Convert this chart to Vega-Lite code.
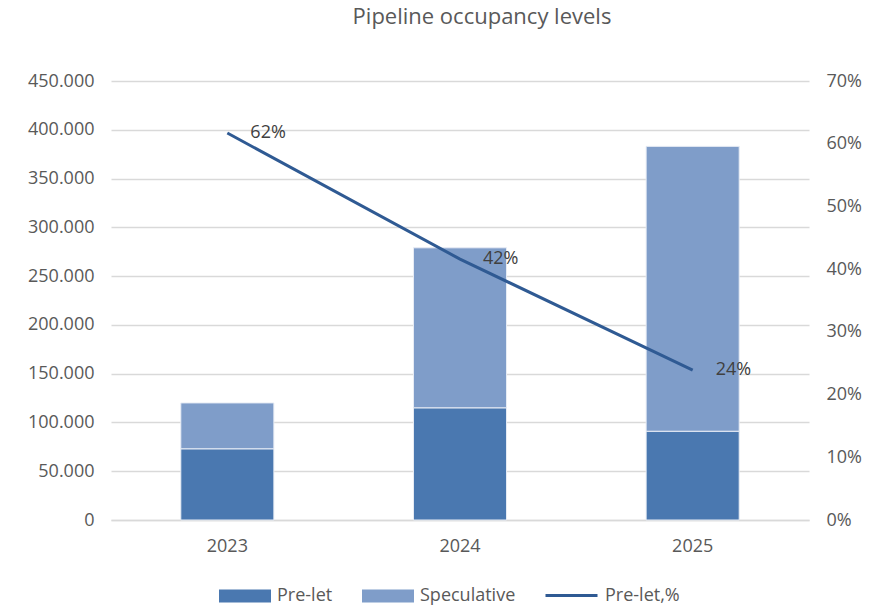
{
  "$schema": "https://vega.github.io/schema/vega-lite/v6.json",
  "width": 698,
  "height": 439,
  "padding": {"left": 27, "top": 6, "right": 8, "bottom": 0},
  "config": {
    "font": "Open Sans",
    "view": {"stroke": null},
    "axis": {"labelFont": "Open Sans", "labelColor": "#595959", "labelFontSize": 18, "titleFont": "Open Sans"},
    "legend": {"labelFont": "Open Sans", "labelColor": "#595959", "labelFontSize": 18}
  },
  "title": {"text": "Pipeline occupancy levels", "fontSize": 22, "fontWeight": "normal", "color": "#595959", "font": "Open Sans", "dx": 22, "offset": 43, "anchor": "middle"},
  "datasets": {
    "bars": [
      {"year": "2023", "series": "Pre-let", "value": 73000, "ord": 1},
      {"year": "2023", "series": "Speculative", "value": 47000, "ord": 2},
      {"year": "2024", "series": "Pre-let", "value": 115000, "ord": 1},
      {"year": "2024", "series": "Speculative", "value": 164000, "ord": 2},
      {"year": "2025", "series": "Pre-let", "value": 91000, "ord": 1},
      {"year": "2025", "series": "Speculative", "value": 292000, "ord": 2}
    ],
    "line": [
      {"year": "2023", "pct": 0.617, "label": "62%"},
      {"year": "2024", "pct": 0.416, "label": "42%"},
      {"year": "2025", "pct": 0.239, "label": "24%"}
    ]
  },
  "encoding": {
    "x": {"field": "year", "type": "nominal",
      "scale": {"paddingInner": 0.6, "paddingOuter": 0.3},
      "axis": {"title": null, "labelAngle": 0, "ticks": false, "domainColor": "#d9d9d9", "domainWidth": 1.5, "labelPadding": 17, "grid": false}}
  },
  "layer": [
    {
      "data": {"name": "bars"},
      "mark": {"type": "bar", "stroke": "#e8edf5", "strokeWidth": 1},
      "encoding": {
        "y": {"field": "value", "type": "quantitative", "stack": "zero",
          "scale": {"domain": [0, 450000]},
          "axis": {"title": null, "values": [0,50000,100000,150000,200000,250000,300000,350000,400000,450000], "labelExpr": "replace(format(datum.value, ','), ',', '.')", "domain": false, "ticks": false, "gridColor": "#d9d9d9", "gridWidth": 1.5, "labelPadding": 17, "labelOverlap": false}},
        "fill": {"field": "series", "type": "nominal",
          "scale": {"domain": ["Pre-let", "Speculative"], "range": ["#4a78b0", "#7f9dc9"]},
          "legend": {"title": null, "orient": "none", "legendX": 108, "legendY": 489, "direction": "horizontal", "columnPadding": 29, "labelOffset": 6, "symbolSize": 2704, "symbolType": "M-1,-0.25H1V0.25H-1Z", "symbolStrokeWidth": 0, "labelLimit": 200}},
        "order": {"field": "ord", "type": "quantitative"}
      }
    },
    {
      "data": {"name": "line"},
      "mark": {"type": "line", "strokeWidth": 3},
      "encoding": {
        "y": {"field": "pct", "type": "quantitative", "scale": {"domain": [0, 0.7]},
          "axis": {"title": null, "orient": "right", "format": ".0%", "values": [0,0.1,0.2,0.3,0.4,0.5,0.6,0.7], "domain": false, "ticks": false, "grid": false, "labelPadding": 17}},
        "stroke": {"datum": "Pre-let,%", "type": "nominal",
          "scale": {"domain": ["Pre-let,%"], "range": ["#2f5a93"]},
          "legend": {"title": null, "orient": "none", "legendX": 433, "legendY": 487, "direction": "horizontal", "labelOffset": 6, "symbolSize": 2704, "symbolType": "stroke", "symbolStrokeWidth": 3, "labelLimit": 200}}
      }
    },
    {
      "data": {"name": "line"},
      "mark": {"type": "text", "align": "left", "dx": 23, "baseline": "middle", "fontSize": 18, "color": "#404040", "font": "Open Sans"},
      "encoding": {
        "y": {"field": "pct", "type": "quantitative", "scale": {"domain": [0, 0.7]}, "axis": null},
        "text": {"field": "label"}
      }
    }
  ],
  "resolve": {"scale": {"y": "independent", "fill": "independent", "stroke": "independent"}, "legend": {"fill": "independent", "stroke": "independent"}}
}
